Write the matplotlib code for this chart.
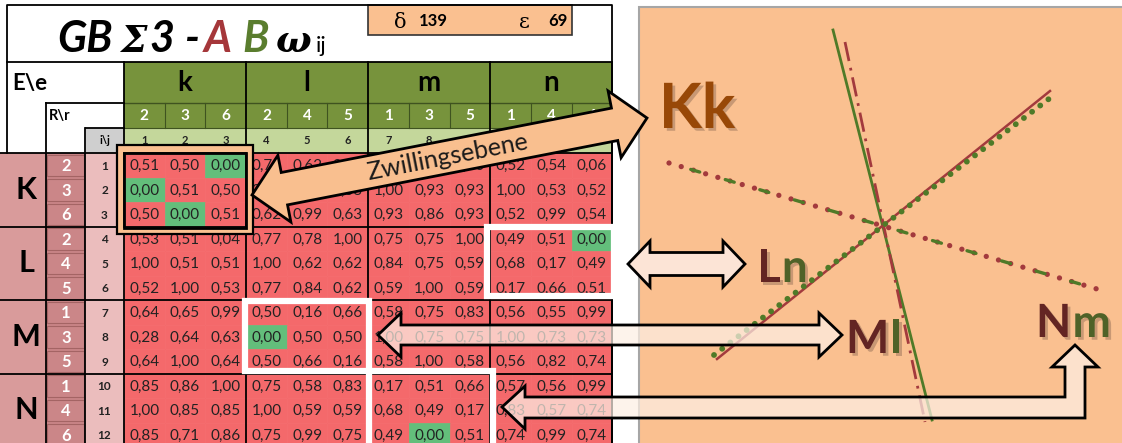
import numpy as np
import matplotlib.pyplot as plt
from matplotlib.patches import Rectangle, Polygon
import matplotlib.patheffects as pe

plt.rcParams['font.family'] = ['Lato', 'DejaVu Sans']

# ---- table data ----
col_groups = ['k', 'l', 'm', 'n']
row_groups = ['K', 'L', 'M', 'N']
col_r = [2, 3, 6, 2, 4, 5, 1, 3, 5, 1, 4, 6]
row_r = [2, 3, 6, 2, 4, 5, 1, 3, 5, 1, 4, 6]
ij_labels = list(range(1, 13))
omega = np.array([
    [0.51, 0.50, 0.00, 0.78, 0.62, 0.63, 0.93, 0.86, 1.00, 0.52, 0.54, 0.06],
    [0.00, 0.51, 0.50, 0.99, 0.62, 0.63, 1.00, 0.93, 0.93, 1.00, 0.53, 0.52],
    [0.50, 0.00, 0.51, 0.62, 0.99, 0.63, 0.93, 0.86, 0.93, 0.52, 0.99, 0.54],
    [0.53, 0.51, 0.04, 0.77, 0.78, 1.00, 0.75, 0.75, 1.00, 0.49, 0.51, 0.00],
    [1.00, 0.51, 0.51, 1.00, 0.62, 0.62, 0.84, 0.75, 0.59, 0.68, 0.17, 0.49],
    [0.52, 1.00, 0.53, 0.77, 0.84, 0.62, 0.59, 1.00, 0.59, 0.17, 0.66, 0.51],
    [0.64, 0.65, 0.99, 0.50, 0.16, 0.66, 0.58, 0.75, 0.83, 0.56, 0.55, 0.99],
    [0.28, 0.64, 0.63, 0.00, 0.50, 0.50, 1.00, 0.75, 0.75, 1.00, 0.73, 0.73],
    [0.64, 1.00, 0.64, 0.50, 0.66, 0.16, 0.58, 1.00, 0.58, 0.56, 0.82, 0.74],
    [0.85, 0.86, 1.00, 0.75, 0.58, 0.83, 0.17, 0.51, 0.66, 0.57, 0.56, 0.99],
    [1.00, 0.85, 0.85, 1.00, 0.59, 0.59, 0.68, 0.49, 0.17, 0.83, 0.57, 0.74],
    [0.85, 0.71, 0.86, 0.75, 0.99, 0.75, 0.49, 0.00, 0.51, 0.74, 0.99, 0.74],
])
delta_val = 139
eps_val = 69

# ---- diagram lines (image pixel coords) ----
green_solid = ([833, 932], [30, 420])
red_dashdot = ([845, 925], [42, 422])
red_solid = ([717, 1050], [359, 91])
green_dots = ([714, 1054], [355, 95])
mixed_line = ([669, 1097], [163, 289])

RED = '#F4696B'
GRN = '#63BE7B'
DKGRN = '#77933C'
LTGRN = '#C4D79B'
PEACH = '#FAC090'
LGREEN = '#4F7A28'
LRED = '#A33A3D'

fig = plt.figure(figsize=(11.22, 4.43), dpi=100)
ax = fig.add_axes([0, 0, 1, 1])
ax.set_xlim(0, 1122)
ax.set_ylim(443, 0)
ax.axis('off')

X0, CW = 124, 40.7
Y0, RH = 153, 24.5
XR = X0 + 12 * CW

# data cells
for i in range(12):
    for j in range(12):
        v = omega[i, j]
        c = GRN if v == 0 else RED
        ax.add_patch(Rectangle((X0 + j * CW, Y0 + i * RH), CW, RH, fc=c, ec=c, lw=0.5, zorder=1))
        ax.text(X0 + (j + 0.5) * CW, Y0 + (i + 0.5) * RH + 1, f'{v:.2f}'.replace('.', ','),
                ha='center', va='center', fontsize=11, color='#222222', zorder=2)

# header
ax.add_patch(Rectangle((X0, 62), 12 * CW, 66, fc=DKGRN, ec='none', zorder=1))
ax.add_patch(Rectangle((X0, 128), 12 * CW, 25, fc=LTGRN, ec='none', zorder=1))
for g, name in enumerate(col_groups):
    ax.text(X0 + (3 * g + 1.5) * CW, 83, name, ha='center', va='center', fontsize=20,
            fontweight='bold', color='black', zorder=2)
for j in range(12):
    ax.text(X0 + (j + 0.5) * CW, 116, str(col_r[j]), ha='center', va='center', fontsize=11,
            fontweight='bold', color='white', zorder=2)
    ax.text(X0 + (j + 0.5) * CW, 141, str(ij_labels[j]), ha='center', va='center', fontsize=8,
            fontweight='bold', color='#222222', zorder=2)
    if j % 3:
        ax.plot([X0 + j * CW] * 2, [103, 128], color='#3F5320', lw=0.8, zorder=3)
ax.plot([X0, XR], [103, 103], color='#3F5320', lw=1, zorder=3)
ax.plot([X0, XR], [128, 128], color='#3F5320', lw=0.8, zorder=3)

# left columns
for g, name in enumerate(row_groups):
    ax.add_patch(Rectangle((0, Y0 + 3 * g * RH), 46, 3 * RH, fc='#D99B9B', ec='none', zorder=1))
    ax.text(26, Y0 + (3 * g + 1.5) * RH, name, ha='center', va='center', fontsize=22,
            fontweight='bold', color='black', zorder=2)
ax.add_patch(Rectangle((46, Y0), 39, 12 * RH, fc='#C98486', ec='none', zorder=0.5))
for i in range(12):
    ax.add_patch(Rectangle((47.5, Y0 + i * RH + 1.5), 36.5, RH - 3, fc='#CB8688', ec='#A46464', lw=0.8, zorder=1))
    ax.add_patch(Rectangle((85, Y0 + i * RH), 39, RH, fc='#EBBDBD', ec='none', zorder=1))
    ax.text(66, Y0 + (i + 0.5) * RH + 1, str(row_r[i]), ha='center', va='center', fontsize=12,
            fontweight='bold', color='white', zorder=2)
    ax.text(104.5, Y0 + (i + 0.5) * RH + 1, str(ij_labels[i]), ha='center', va='center', fontsize=8.5,
            fontweight='bold', color='#222222', zorder=2)

# corner labels
ax.text(12, 83, 'E\\e', ha='left', va='center', fontsize=16, fontweight='bold', zorder=2)
ax.text(49, 116, 'R\\r', ha='left', va='center', fontsize=10.5, fontweight='bold', zorder=2)
ax.add_patch(Rectangle((86, 128), 38, 25, fc='#CFCFCF', ec='none', zorder=1))
ax.text(105, 141, 'i\\j', ha='center', va='center', fontsize=8, fontweight='bold', zorder=2)

# grid lines
kw = dict(color='black', lw=1.3, zorder=3)
for g in range(4):
    ax.plot([0, XR], [Y0 + 3 * g * RH] * 2, **kw)
for g in range(5):
    ax.plot([X0 + 3 * g * CW] * 2, [62, 443], **kw)
ax.plot([7, XR], [62, 62], **kw)
ax.plot([46, X0], [103, 103], **kw)
ax.plot([46, 46], [103, 443], **kw)
ax.plot([86, X0], [128, 128], **kw)
ax.plot([85.5, 85.5], [128, 443], **kw)
ax.plot([7, 7, XR, XR], [Y0, 5, 5, 443], **kw)

# delta / epsilon box
ax.add_patch(Rectangle((368, 5), 204, 30, fc=PEACH, ec='#333333', lw=1.2, zorder=2))
ax.text(400, 22, 'δ', ha='center', va='center', fontsize=15, family='DejaVu Serif', zorder=3)
ax.text(419, 21, str(delta_val), ha='left', va='center', fontsize=12, fontweight='bold', zorder=3)
ax.text(524, 22, 'ε', ha='center', va='center', fontsize=15, family='DejaVu Serif', zorder=3)
ax.text(568, 21, str(eps_val), ha='right', va='center', fontsize=12, fontweight='bold', zorder=3)

# title
tkw = dict(va='baseline', fontweight='bold', style='italic', zorder=3)
ax.text(57, 52, 'GB', color='black', fontsize=31, **tkw)
ax.text(120, 52, 'Σ', color='black', family='DejaVu Serif', fontsize=27, **tkw)
ax.text(149, 52, '3', color='black', fontsize=31, **tkw)
ax.text(185, 52, '-', color='black', fontsize=31, **tkw)
ax.text(204, 52, 'A', color='#A5373A', fontsize=31, **tkw)
ax.text(242, 52, 'B', color='#5A7D2E', fontsize=31, **tkw)
ax.text(276, 52, 'ω', color='black', family='DejaVu Serif', fontsize=27, **tkw)
ax.text(316, 52, 'ij', va='baseline', fontsize=16, color='black', zorder=3)

# highlight boxes
wkw = dict(fill=False, ec='white', lw=4.5, zorder=4)
ax.add_patch(Rectangle((487, 226.5), XR - 487 + 2, 69, **wkw))
ax.add_patch(Rectangle((245, 301), 124, 70, **wkw))
ax.add_patch(Rectangle((369, 371), 124, 80, **wkw))
ax.add_patch(Rectangle((120.5, 148.5), 129.5, 82, fill=False, ec=PEACH, lw=4.5, zorder=5))
ax.add_patch(Rectangle((117, 145), 136.5, 89, fill=False, ec='black', lw=1.6, zorder=5))
ax.add_patch(Rectangle((124, 152.5), 122.5, 75, fill=False, ec='black', lw=2.0, zorder=5))

# right panel
ax.add_patch(Rectangle((639, 7), 500, 450, fc=PEACH, ec='#A6A6A6', lw=1.5, zorder=1))
ax.plot(*green_solid, color=LGREEN, lw=2.0, zorder=3)
ax.plot(*red_dashdot, color=LRED, lw=2.0, ls=(0, (7, 2.5, 1, 2.5)), zorder=3)
ax.plot(*red_solid, color=LRED, lw=1.8, zorder=3)
ax.plot(*green_dots, color=LGREEN, lw=4.2, ls=(0, (0.01, 1.75)), dash_capstyle='round', zorder=3)
ax.plot(*mixed_line, color=LRED, lw=3.8, ls=(0, (0.01, 2.4)), dash_capstyle='round', zorder=3)
ax.plot(*mixed_line, color=LGREEN, lw=2.4, ls=(4, (2.8, 8.0)), dash_capstyle='round', zorder=3.5)

shadow = [pe.withSimplePatchShadow(offset=(2, -2), shadow_rgbFace='#6b5040', alpha=0.35)]


def put_parts(x, y, parts, size):
    r = fig.canvas.get_renderer()
    for s, col in parts:
        t = ax.text(x, y, s, ha='left', va='baseline', fontsize=size, fontweight='bold',
                    color=col, path_effects=shadow, zorder=5)
        bb = t.get_window_extent(renderer=r)
        x = ax.transData.inverted().transform((bb.x1, bb.y0))[0] + 1


fig.canvas.draw()
put_parts(659, 128, [('Kk', '#984807')], 45)
put_parts(757, 282, [('L', '#632523'), ('n', '#4F6228')], 33)
put_parts(846, 353, [('M', '#632523'), ('l', '#4F6228')], 33)
put_parts(1036, 337, [('N', '#632523'), ('m', '#4F6228')], 33)


def double_arrow(p0, p1, shaft, head_w, head_l):
    p0 = np.array(p0, float)
    p1 = np.array(p1, float)
    d = p1 - p0
    u = d / np.hypot(*d)
    n = np.array([-u[1], u[0]])
    return np.array([p0, p0 + u * head_l + n * head_w / 2, p0 + u * head_l + n * shaft / 2,
                     p1 - u * head_l + n * shaft / 2, p1 - u * head_l + n * head_w / 2, p1,
                     p1 - u * head_l - n * head_w / 2, p1 - u * head_l - n * shaft / 2,
                     p0 + u * head_l - n * shaft / 2, p0 + u * head_l - n * head_w / 2])


# Ln arrow
ax.add_patch(Polygon(double_arrow((628, 264), (745, 264), 23, 46, 22), closed=True,
                     fc='#FCE4D6', ec='black', lw=2, zorder=6))
# Ml arrow (translucent)
ml = double_arrow((378, 335), (842, 335), 20, 44, 23)
ax.add_patch(Polygon(ml, closed=True, fc='#FDEFE4', ec='none', alpha=0.72, zorder=6))
ax.add_patch(Polygon(ml, closed=True, fill=False, ec='black', lw=2, zorder=6))
# Nm bent arrow
nm = np.array([(502, 407), (525, 386), (525, 397), (1065, 397), (1065, 367), (1052, 367),
               (1075, 345), (1098, 367), (1085, 367), (1085, 418), (525, 418), (525, 429)])
ax.add_patch(Polygon(nm, closed=True, fc='#FDEFE4', ec='none', alpha=0.72, zorder=6))
ax.add_patch(Polygon(nm, closed=True, fill=False, ec='black', lw=2, zorder=6))

# Zwillingsebene arrow
za, zb = (252, 195), (647, 118)
ax.add_patch(Polygon(double_arrow(za, zb, 33, 68, 33), closed=True,
                     fc='#F9BF8F', ec='black', lw=2, zorder=7))
ang = np.degrees(np.arctan2(za[1] - zb[1], zb[0] - za[0]))
ax.text(448, 157, 'Zwillingsebene', rotation=ang, rotation_mode='anchor', ha='center',
        va='center', fontsize=18, color='#1a1a1a', zorder=8)

fig.savefig('out.png', dpi=100)
